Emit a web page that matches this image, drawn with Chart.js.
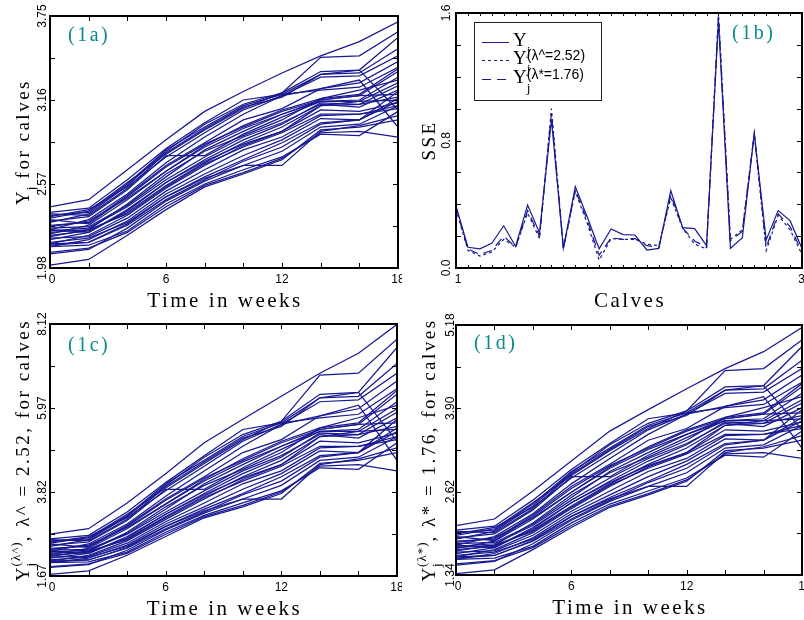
<!DOCTYPE html>
<html><head><meta charset="utf-8">
<script src="https://cdn.jsdelivr.net/npm/chart.js@4.4.1/dist/chart.umd.min.js"></script>
<style>
html,body{margin:0;padding:0;background:#fff;width:804px;height:620px;overflow:hidden;}
canvas{position:absolute;}
</style></head><body>
<canvas id="cA" width="402" height="310" style="left:0;top:0;width:402px;height:310px"></canvas>
<canvas id="cB" width="402" height="310" style="left:402px;top:0;width:402px;height:310px"></canvas>
<canvas id="cC" width="402" height="322" style="left:0;top:298px;width:402px;height:322px"></canvas>
<canvas id="cD" width="402" height="322" style="left:402px;top:298px;width:402px;height:322px"></canvas>
<script>
// ---------- data ----------
const weeks = [0,2,4,6,8,10,12,14,16,18];
const calves = [1,2,3,4,5,6,7,8,9,10,11,12,13,14,15,16,17,18,19,20,21,22,23,24,25,26,27,28,29,30];

// (1a) Y_j for calves
const yA = [
[2.41,2.46,2.67,2.88,3.08,3.22,3.35,3.47,3.57,3.71],
[2.33,2.38,2.58,2.78,2.95,3.10,3.21,3.46,3.47,3.64],
[2.30,2.36,2.56,2.80,2.99,3.13,3.21,3.36,3.37,3.60],
[2.37,2.40,2.60,2.82,3.00,3.16,3.20,3.34,3.35,3.52],
[2.25,2.32,2.50,2.72,2.90,3.06,3.19,3.32,3.33,3.47],
[2.28,2.30,2.49,2.70,2.86,3.02,3.10,3.24,3.28,3.43],
[2.35,2.37,2.57,2.81,2.97,3.12,3.20,3.23,3.25,3.39],
[2.22,2.28,2.46,2.66,2.84,2.98,3.09,3.17,3.20,3.38],
[2.26,2.27,2.42,2.62,2.81,2.94,3.06,3.16,3.19,3.36],
[2.31,2.34,2.53,2.77,2.77,2.92,3.04,3.15,3.16,3.32],
[2.20,2.25,2.43,2.64,2.80,2.91,3.02,3.17,3.23,3.30],
[2.27,2.31,2.47,2.66,2.83,2.96,3.06,3.15,3.15,3.28],
[2.18,2.23,2.39,2.58,2.74,2.88,2.99,3.14,3.13,3.26],
[2.24,2.26,2.41,2.60,2.76,2.90,3.00,3.13,3.11,3.23],
[2.32,2.29,2.48,2.69,2.85,2.97,3.08,3.16,3.19,3.20],
[2.21,2.24,2.37,2.56,2.72,2.86,2.97,3.12,3.13,3.18],
[2.15,2.21,2.35,2.54,2.70,2.84,2.94,3.12,3.15,3.16],
[2.25,2.23,2.38,2.58,2.73,2.85,2.94,3.09,3.08,3.14],
[2.23,2.25,2.36,2.55,2.71,2.83,2.93,3.06,3.06,3.12],
[2.19,2.20,2.33,2.52,2.67,2.81,2.90,3.05,3.06,3.10],
[2.13,2.18,2.31,2.50,2.64,2.77,2.88,3.03,3.02,3.22],
[2.16,2.19,2.30,2.48,2.62,2.74,2.86,3.00,3.02,3.17],
[2.15,2.16,2.28,2.46,2.60,2.73,2.83,2.99,3.02,3.15],
[2.08,2.11,2.26,2.45,2.59,2.70,2.80,2.97,2.99,3.12],
[2.14,2.16,2.29,2.48,2.61,2.70,2.70,2.94,2.98,3.05],
[2.13,2.14,2.24,2.43,2.57,2.67,2.76,2.92,2.91,3.08],
[2.09,2.12,2.23,2.41,2.56,2.65,2.75,2.93,2.94,2.90],
[2.00,2.04,2.21,2.39,2.55,2.64,2.74,2.95,2.97,3.02],
[2.34,2.39,2.55,2.76,2.93,3.09,3.19,3.24,3.30,2.97],
[2.36,2.35,2.54,2.79,2.96,3.11,3.18,3.34,3.37,3.09]
];

// (1c) Y_j^(lambda^), lambda^ = 2.52
const yC = [
[2.74,2.88,3.54,4.29,5.08,5.68,6.27,6.86,7.37,8.11],
[2.51,2.65,3.25,3.92,4.55,5.16,5.63,6.81,6.86,7.73],
[2.43,2.60,3.19,3.99,4.71,5.29,5.63,6.32,6.37,7.52],
[2.62,2.71,3.31,4.06,4.75,5.42,5.59,6.23,6.27,7.11],
[2.30,2.49,3.00,3.71,4.36,4.99,5.55,6.13,6.18,6.86],
[2.38,2.43,2.97,3.64,4.21,4.83,5.16,5.77,5.95,6.66],
[2.57,2.62,3.22,4.03,4.63,5.24,5.59,5.72,5.81,6.46],
[2.22,2.38,2.88,3.51,4.14,4.67,5.12,5.46,5.59,6.42],
[2.33,2.35,2.76,3.38,4.03,4.52,4.99,5.42,5.55,6.32],
[2.46,2.54,3.09,3.89,3.89,4.44,4.91,5.37,5.42,6.13],
[2.17,2.30,2.79,3.44,3.99,4.40,4.83,5.46,5.72,6.04],
[2.35,2.46,2.91,3.51,4.10,4.59,4.99,5.37,5.37,5.95],
[2.13,2.25,2.68,3.25,3.78,4.29,4.71,5.33,5.29,5.86],
[2.28,2.33,2.74,3.31,3.85,4.36,4.75,5.29,5.20,5.72],
[2.49,2.40,2.94,3.61,4.18,4.63,5.08,5.42,5.55,5.59],
[2.20,2.28,2.62,3.19,3.71,4.21,4.63,5.24,5.29,5.50],
[2.05,2.20,2.57,3.12,3.64,4.14,4.52,5.24,5.37,5.42],
[2.30,2.25,2.65,3.25,3.75,4.18,4.52,5.12,5.08,5.33],
[2.25,2.30,2.60,3.16,3.68,4.10,4.48,4.99,4.99,5.24],
[2.15,2.17,2.51,3.06,3.54,4.03,4.36,4.95,4.99,5.16],
[2.01,2.13,2.46,3.00,3.44,3.89,4.29,4.87,4.83,5.68],
[2.08,2.15,2.43,2.94,3.38,3.78,4.21,4.75,4.83,5.46],
[2.05,2.08,2.38,2.88,3.31,3.75,4.10,4.71,4.83,5.37],
[1.89,1.96,2.33,2.85,3.28,3.64,3.99,4.63,4.71,5.24],
[2.03,2.08,2.40,2.94,3.34,3.64,3.64,4.52,4.67,4.95],
[2.01,2.03,2.28,2.79,3.22,3.54,3.85,4.44,4.40,5.08],
[1.91,1.98,2.25,2.74,3.19,3.48,3.82,4.48,4.52,4.36],
[1.71,1.80,2.20,2.68,3.16,3.44,3.78,4.55,4.63,4.83],
[2.54,2.68,3.16,3.85,4.48,5.12,5.55,5.77,6.04,4.63],
[2.60,2.57,3.12,3.96,4.59,5.20,5.50,6.23,6.37,5.12]
];

// (1d) Y_j^(lambda*), lambda* = 1.76
const yD = [
[2.10,2.20,2.63,3.09,3.55,3.88,4.20,4.51,4.77,5.14],
[1.95,2.05,2.45,2.87,3.25,3.59,3.86,4.48,4.51,4.95],
[1.89,2.01,2.40,2.91,3.34,3.67,3.86,4.23,4.25,4.85],
[2.03,2.09,2.49,2.96,3.36,3.74,3.83,4.18,4.20,4.64],
[1.80,1.93,2.28,2.74,3.13,3.50,3.81,4.13,4.15,4.51],
[1.86,1.89,2.26,2.70,3.04,3.41,3.59,3.93,4.03,4.41],
[1.99,2.03,2.43,2.93,3.29,3.64,3.83,3.91,3.96,4.30],
[1.75,1.86,2.20,2.61,3.00,3.31,3.57,3.76,3.83,4.28],
[1.82,1.84,2.12,2.53,2.93,3.22,3.50,3.74,3.81,4.23],
[1.91,1.97,2.34,2.85,2.85,3.18,3.45,3.71,3.74,4.13],
[1.71,1.80,2.14,2.57,2.91,3.15,3.41,3.76,3.91,4.08],
[1.84,1.91,2.22,2.61,2.98,3.27,3.50,3.71,3.71,4.03],
[1.67,1.76,2.07,2.45,2.78,3.09,3.34,3.69,3.67,3.98],
[1.78,1.82,2.10,2.49,2.83,3.13,3.36,3.67,3.62,3.91],
[1.93,1.87,2.24,2.67,3.02,3.29,3.55,3.74,3.81,3.83],
[1.73,1.78,2.03,2.40,2.74,3.04,3.29,3.64,3.67,3.79],
[1.62,1.73,1.99,2.36,2.70,3.00,3.22,3.64,3.71,3.74],
[1.80,1.76,2.05,2.45,2.76,3.02,3.22,3.57,3.55,3.69],
[1.76,1.80,2.01,2.38,2.72,2.98,3.20,3.50,3.50,3.64],
[1.69,1.71,1.95,2.32,2.63,2.93,3.13,3.48,3.50,3.59],
[1.58,1.67,1.91,2.28,2.57,2.85,3.09,3.43,3.41,3.88],
[1.64,1.69,1.89,2.24,2.53,2.78,3.04,3.36,3.41,3.76],
[1.62,1.64,1.86,2.20,2.49,2.76,2.98,3.34,3.41,3.71],
[1.49,1.55,1.82,2.18,2.47,2.70,2.91,3.29,3.34,3.64],
[1.60,1.64,1.87,2.24,2.51,2.70,2.70,3.22,3.31,3.48],
[1.58,1.60,1.78,2.14,2.43,2.63,2.83,3.18,3.15,3.55],
[1.51,1.56,1.76,2.10,2.40,2.59,2.80,3.20,3.22,3.13],
[1.36,1.42,1.73,2.07,2.38,2.57,2.78,3.25,3.29,3.41],
[1.97,2.07,2.38,2.83,3.20,3.57,3.81,3.93,4.08,3.29],
[2.01,1.99,2.36,2.89,3.27,3.62,3.79,4.18,4.25,3.57]
];

// (1b) SSE per calf
const sseY    = [0.39,0.13,0.12,0.155,0.265,0.135,0.395,0.22,0.93,0.125,0.51,0.32,0.12,0.245,0.21,0.207,0.113,0.123,0.485,0.253,0.247,0.14,1.55,0.123,0.19,0.845,0.176,0.36,0.297,0.123];
const sseHat  = [0.37,0.11,0.075,0.10,0.18,0.13,0.345,0.185,1.00,0.12,0.48,0.28,0.05,0.185,0.18,0.18,0.15,0.14,0.44,0.25,0.15,0.12,1.60,0.18,0.24,0.84,0.11,0.33,0.24,0.085];
const sseStar = [0.38,0.12,0.085,0.11,0.20,0.13,0.36,0.20,0.97,0.12,0.49,0.30,0.08,0.19,0.18,0.185,0.14,0.13,0.46,0.25,0.17,0.13,1.58,0.17,0.23,0.845,0.13,0.34,0.26,0.10];

// tick values / labels
const weekTicks = [0,6,12,18];
const weekTickLabels = ['0','6','12','18'];
const yTicksA = [1.98,2.57,3.16,3.75];
const yTickLabelsA = ['1.98','2.57','3.16','3.75'];
const yTicksC = [1.67,3.82,5.97,8.12];
const yTickLabelsC = ['1.67','3.82','5.97','8.12'];
const yTicksD = [1.34,2.62,3.90,5.18];
const yTickLabelsD = ['1.34','2.62','3.90','5.18'];
const calfTicks = [1,30];
const calfTickLabels = ['1','30'];
const sseTicks = [0.0,0.8,1.6];
const sseTickLabels = ['0.0','0.8','1.6'];
const legendLabels = ['', '(λ^=2.52)', '(λ*=1.76)'];

// ---------- styling ----------
const NAVY = 'rgb(25,25,145)';
const TEAL = '#0b8a8a';
const SERIF = '"Liberation Serif","DejaVu Serif",serif';
const SANS = '"Liberation Sans",Arial,sans-serif';

function withMinor(t){ const out=[]; for(let i=0;i<t.length;i++){ out.push(t[i]); if(i<t.length-1) out.push((t[i]+t[i+1])/2);} return out; }
function stepTicks(a,b,s){ const out=[]; for(let v=a; v<=b+1e-9; v+=s) out.push(+v.toFixed(4)); return out; }

function setLS(ctx, ls){ if('letterSpacing' in ctx) ctx.letterSpacing = (ls||0)+'px'; }

function drawRuns(ctx, runs, x, y, align){
  let total=0;
  for(const r of runs){ let m=0; for(const p of r){ ctx.font=p.font; setLS(ctx,p.ls); m=Math.max(m, ctx.measureText(p.text).width); } r._w=m; total+=m; }
  let cx = align==='center' ? x-total/2 : x;
  ctx.textAlign='left'; ctx.textBaseline='alphabetic';
  for(const r of runs){ for(const p of r){ ctx.font=p.font; setLS(ctx,p.ls); ctx.fillStyle=p.color||'#000'; ctx.fillText(p.text, cx, y+(p.dy||0)); } cx+=r._w; }
  setLS(ctx,0);
}

function panelPlugin(cfg){
  return { id:'panel', afterDraw(chart){
    const ctx=chart.ctx, a=chart.chartArea, xs=chart.scales.x, ys=chart.scales.y;
    ctx.save();
    // ticks
    ctx.strokeStyle='#000'; ctx.lineWidth=1; ctx.beginPath();
    for(const v of cfg.xTickAll){ const px=Math.round(xs.getPixelForValue(v))+0.5;
      ctx.moveTo(px,a.bottom); ctx.lineTo(px,a.bottom-cfg.xTickLen); ctx.moveTo(px,a.top); ctx.lineTo(px,a.top+cfg.xTickLen); }
    for(const v of cfg.yTickAll){ const py=Math.round(ys.getPixelForValue(v))+0.5;
      ctx.moveTo(a.left,py); ctx.lineTo(a.left+cfg.yTickLen,py); ctx.moveTo(a.right,py); ctx.lineTo(a.right-cfg.yTickLen,py); }
    ctx.stroke();
    // frame
    ctx.lineWidth=2; ctx.strokeRect(a.left,a.top,a.right-a.left,a.bottom-a.top);
    // x tick labels
    ctx.fillStyle='#000'; ctx.font='12px '+SANS; ctx.textAlign='center'; ctx.textBaseline='alphabetic';
    const n=cfg.xTicks.length;
    cfg.xTicks.forEach((v,i)=>ctx.fillText(cfg.xLabels[i], xs.getPixelForValue(v)+(i===0?2:(i===n-1?cfg.lastShift:0)), a.bottom+15));
    // y tick labels (rotated)
    cfg.yTicks.forEach((v,i)=>{ ctx.save(); ctx.translate(a.left-cfg.yLabOff, ys.getPixelForValue(v)); ctx.rotate(-Math.PI/2);
      ctx.textAlign='center'; ctx.font='12px '+SANS; ctx.fillText(cfg.yLabels[i],0,0); ctx.restore(); });
    // x title
    drawRuns(ctx, [[{text:cfg.xTitle, font:'21px '+SERIF, ls:2.5}]], (a.left+a.right)/2+1, a.bottom+39, 'center');
    // y title
    ctx.save(); ctx.translate(cfg.yTitleX,(a.top+a.bottom)/2); ctx.rotate(-Math.PI/2);
    drawRuns(ctx,cfg.yTitleRuns,0,0,'center'); ctx.restore();
    // panel tag
    drawRuns(ctx, [[{text:cfg.tag, font:'20px '+SERIF, ls:2.5, color:TEAL}]], cfg.tagX, cfg.tagY, 'left');
    if(cfg.extra) cfg.extra(ctx,chart);
    ctx.restore();
  }};
}

function spaghetti(rows){
  return rows.map(r=>({data:r.map((v,i)=>({x:weeks[i],y:v})), borderColor:NAVY, borderWidth:1.25, pointRadius:0, fill:false, tension:0}));
}

function makeChart(id, datasets, xr, yr, pad, cfg){
  return new Chart(document.getElementById(id), {
    type:'line',
    data:{datasets},
    options:{
      responsive:false, animation:false, devicePixelRatio:1,
      layout:{padding:pad},
      plugins:{legend:{display:false}, tooltip:{enabled:false}},
      events:[],
      scales:{
        x:{type:'linear', min:xr[0], max:xr[1], display:false},
        y:{type:'linear', min:yr[0], max:yr[1], display:false}
      }
    },
    plugins:[panelPlugin(cfg)]
  });
}

const TB = '19px '+SERIF, TS = '13px '+SERIF, LS = 2.5;

// (1a)
makeChart('cA', spaghetti(yA), [0,18], [yTicksA[0], yTicksA[3]], {left:50,top:16,right:4,bottom:42}, {
  xTickAll:weeks, xTickLen:5, yTickAll:withMinor(yTicksA), yTickLen:5,
  xTicks:weekTicks, xLabels:weekTickLabels, yTicks:yTicksA, yLabels:yTickLabelsA, yLabOff:4, lastShift:0,
  xTitle:'Time in weeks', yTitleX:29,
  yTitleRuns:[[{text:'Y',font:TB,ls:1}],[{text:'j',font:TS,dy:6,ls:1}],[{text:' for calves',font:TB,ls:LS}]],
  tag:'(1a)', tagX:68, tagY:41
});

// (1b)
const sseSets = [
  {data:sseY.map((v,i)=>({x:calves[i],y:v})), borderColor:NAVY, borderWidth:1.2, pointRadius:0, tension:0},
  {data:sseHat.map((v,i)=>({x:calves[i],y:v})), borderColor:NAVY, borderWidth:1.2, borderDash:[3,3], pointRadius:0, tension:0},
  {data:sseStar.map((v,i)=>({x:calves[i],y:v})), borderColor:NAVY, borderWidth:1.2, borderDash:[9,6], pointRadius:0, tension:0}
];
makeChart('cB', sseSets, [1,30], [0,1.6], {left:54,top:13,right:2,bottom:42}, {
  xTickAll:calves, xTickLen:3, yTickAll:stepTicks(0,1.6,0.2), yTickLen:5,
  xTicks:calfTicks, xLabels:calfTickLabels, yTicks:sseTicks, yLabels:sseTickLabels, yLabOff:6, lastShift:3,
  xTitle:'Calves', yTitleX:33,
  yTitleRuns:[[{text:'SSE',font:TB,ls:LS}]],
  tag:'(1b)', tagX:330, tagY:39,
  extra(ctx){
    ctx.strokeStyle='#222'; ctx.lineWidth=1; ctx.strokeRect(72.5,22.5,127,78);
    const ys=[42,60,79], dashes=[[],[3,3],[9,6]];
    for(let i=0;i<3;i++){
      ctx.save(); ctx.strokeStyle=NAVY; ctx.setLineDash(dashes[i]); ctx.beginPath();
      ctx.moveTo(80,ys[i]+0.5); ctx.lineTo(107,ys[i]+0.5); ctx.stroke(); ctx.restore();
      const runs=[[{text:'Y',font:TB}],[{text:'j',font:TS,dy:9}]];
      if(legendLabels[i]) runs[1].push({text:legendLabels[i],font:'14px '+SANS,dy:-4});
      drawRuns(ctx,runs,111,ys[i]+4,'left');
    }
  }
});

// (1c)
makeChart('cC', spaghetti(yC), [0,18], [yTicksC[0], yTicksC[3]], {left:50,top:26,right:5,bottom:44}, {
  xTickAll:weeks, xTickLen:5, yTickAll:withMinor(yTicksC), yTickLen:5,
  xTicks:weekTicks, xLabels:weekTickLabels, yTicks:yTicksC, yLabels:yTickLabelsC, yLabOff:4, lastShift:0,
  xTitle:'Time in weeks', yTitleX:29,
  yTitleRuns:[[{text:'Y',font:TB,ls:1}],[{text:'j',font:TS,dy:6,ls:1},{text:'(λ^)',font:TS,dy:-9,ls:1}],[{text:', λ^ = 2.52, for calves',font:TB,ls:LS}]],
  tag:'(1c)', tagX:68, tagY:53
});

// (1d)
makeChart('cD', spaghetti(yD), [0,18], [yTicksD[0], yTicksD[3]], {left:54,top:27,right:2,bottom:45}, {
  xTickAll:weeks, xTickLen:5, yTickAll:withMinor(yTicksD), yTickLen:5,
  xTicks:weekTicks, xLabels:weekTickLabels, yTicks:yTicksD, yLabels:yTickLabelsD, yLabOff:2, lastShift:3,
  xTitle:'Time in weeks', yTitleX:33,
  yTitleRuns:[[{text:'Y',font:TB,ls:1}],[{text:'j',font:TS,dy:6,ls:1},{text:'(λ*)',font:TS,dy:-9,ls:1}],[{text:', λ* = 1.76, for calves',font:TB,ls:LS}]],
  tag:'(1d)', tagX:72, tagY:51
});
</script>
</body></html>
